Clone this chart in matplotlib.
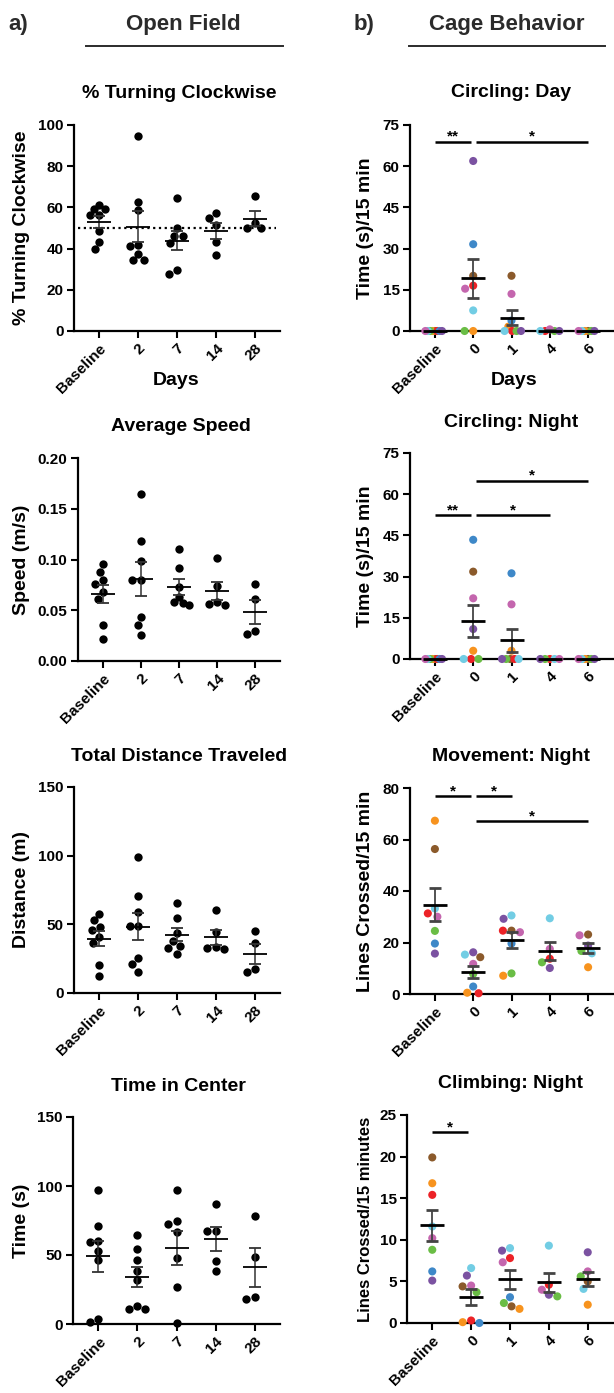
import numpy as np
import matplotlib
matplotlib.use("Agg")
import matplotlib.pyplot as plt
from matplotlib import font_manager

nan = np.nan

# ---------------- data ----------------
of_days = ["Baseline", "2", "7", "14", "28"]
cb_days = ["Baseline", "0", "1", "4", "6"]

turning = [
    [59.2, 59.4, 61.0, 56.1, 56.1, 48.7, 43.0, 40.0],
    [94.8, 62.8, 58.6, 41.7, 41.4, 37.5, 34.3, 34.3],
    [64.4, 46.3, 50.2, 46.3, 42.7, 27.8, 29.8],
    [57.3, 54.7, 51.5, 43.2, 36.7],
    [65.7, 50.2, 52.4, 49.8],
]
speed = [
    [0.096, 0.088, 0.076, 0.080, 0.061, 0.068, 0.035, 0.022],
    [0.165, 0.118, 0.099, 0.080, 0.080, 0.043, 0.035, 0.026],
    [0.110, 0.092, 0.073, 0.063, 0.057, 0.058, 0.055],
    [0.101, 0.074, 0.055, 0.058, 0.056],
    [0.076, 0.061, 0.027, 0.030],
]
distance = [
    [52.9, 57.8, 46.1, 48.3, 36.7, 40.8, 20.6, 12.6],
    [99.0, 70.4, 59.0, 48.5, 48.5, 25.5, 21.1, 15.3],
    [65.8, 54.8, 43.7, 38.1, 34.2, 33.0, 28.4],
    [60.4, 44.2, 32.3, 33.7, 32.8],
    [45.1, 36.6, 15.5, 17.6],
]
center_time = [
    [96.8, 71.2, 59.3, 60.0, 53.2, 46.5, 1.2, 3.6],
    [64.8, 54.4, 46.7, 38.7, 32.2, 11.1, 13.3, 11.1],
    [97.0, 72.3, 74.5, 66.8, 47.7, 27.1, 0.5],
    [87.1, 67.3, 67.7, 45.5, 38.7],
    [78.1, 48.9, 17.9, 19.6],
]

# cage behaviour: one column per animal
animals = ["brown", "orange", "red", "green", "blue", "cyan", "purple", "pink"]
animal_colors = ["#8B5A2B", "#F7931E", "#EC2227", "#6ABD45",
                 "#3E88C8", "#72CDE4", "#7B52A1", "#C466AE"]

circ_day = [
    [0, 0, 0, 0, 0, 0, 0, 0],
    [20.1, 0, 16.5, 0, 31.6, 7.5, 61.9, 15.4],
    [20.1, 1.6, 0, 0, 3.8, 0, 0, 13.5],
    [nan, nan, 0, 0, nan, 0, 0, 0.6],
    [0, 0, nan, 0, nan, 0, 0, 0],
]
circ_night = [
    [0, 0, 0, 0, 0, 0, 0, 0],
    [31.8, 3.0, 0, 0, 43.4, 0, 10.9, 22.1],
    [0, 3.0, 0, 0, 31.2, 0, 0, 19.9],
    [nan, nan, 0, 0, nan, 0, 0, 0],
    [0, 0, nan, 0, nan, 0, 0, 0],
]
movement = [
    [56.3, 67.3, 31.3, 24.5, 19.6, 33.2, 15.7, 30.0],
    [14.3, 0.5, 0.3, 7.8, 2.9, 15.3, 16.2, 11.7],
    [24.6, 7.1, 24.6, 8.0, 19.6, 30.5, 29.2, 24.0],
    [nan, nan, 13.7, 12.3, nan, 29.4, 10.1, 17.5],
    [23.1, 10.4, nan, 16.7, nan, 15.8, 18.8, 22.8],
]
climbing = [
    [19.9, 16.8, 15.4, 8.8, 6.2, 11.6, 5.1, 10.2],
    [4.4, 0.1, 0.3, 3.7, 0.0, 6.6, 5.7, 4.5],
    [2.0, 1.7, 7.8, 2.4, 3.1, 9.0, 8.7, 7.3],
    [nan, nan, 4.6, 3.2, nan, 9.3, 3.4, 4.0],
    [5.0, 2.2, nan, 5.6, nan, 4.1, 8.5, 6.2],
]

# significance: (group a, group b, height, label)
sig_circ_day = [(0, 1, 68.9, "**"), (1, 4, 68.9, "*")]
sig_circ_night = [(0, 1, 52.3, "**"), (1, 3, 52.3, "*"), (1, 4, 64.9, "*")]
sig_movement = [(0, 1, 76.8, "*"), (1, 2, 76.8, "*"), (1, 4, 67.1, "*")]
sig_climbing = [(0, 1, 22.9, "*")]

# ---------------- style ----------------
plt.rcParams["font.family"] = ["Liberation Sans", "DejaVu Sans"]
plt.rcParams["font.weight"] = "bold"
names = {f.name for f in font_manager.fontManager.ttflist}
has_narrow = "Liberation Sans Narrow" in names
head_family = ["Liberation Sans Narrow"] if has_narrow else ["Liberation Sans"]
head_size = 18 if has_narrow else 16

W, H = 614, 1393
fig = plt.figure(figsize=(W / 100, H / 100), dpi=100, facecolor="white")


def rect(x0, y0, x1, y1):
    return [x0 / W, 1 - y1 / H, (x1 - x0) / W, (y1 - y0) / H]


def ftext(x, y, s, **kw):
    fig.text(x / W, 1 - y / H, s, **kw)


def style_axes(ax, labels, ylim, yticks, yfmt=None):
    ax.set_xlim(-0.65, 4.65)
    ax.set_ylim(*ylim)
    ax.set_yticks(yticks)
    if yfmt:
        ax.set_yticklabels([yfmt.format(t) for t in yticks])
    ax.set_xticks(range(len(labels)))
    ax.set_xticklabels(labels, rotation=45, ha="right", rotation_mode="anchor")
    for s in ["top", "right"]:
        ax.spines[s].set_visible(False)
    for s in ["left", "bottom"]:
        ax.spines[s].set_linewidth(1.6)
    ax.tick_params(direction="out", length=5, width=1.5, labelsize=11, pad=2.5)
    for t in ax.get_xticklabels() + ax.get_yticklabels():
        t.set_fontweight("bold")


def swarm(ax, vals, d_px=8.6, lim_px=9.5):
    # simple beeswarm: spread points sideways so they don't collide
    vals = np.asarray(vals, float)
    ypix = ax.transData.transform(np.column_stack([np.zeros_like(vals), vals]))[:, 1]
    order = np.argsort(-ypix, kind="stable")
    xs = np.zeros(len(vals))
    placed = []
    for i in order:
        y = ypix[i]
        cands = [0.0]
        for j in placed:
            dy = y - ypix[j]
            if abs(dy) < d_px:
                dx = np.sqrt(d_px ** 2 - dy ** 2)
                cands += [xs[j] + dx, xs[j] - dx]
        ok = [c for c in cands
              if all((c - xs[j]) ** 2 + (y - ypix[j]) ** 2 >= d_px ** 2 - 1e-6 for j in placed)]
        xs[i] = min(ok, key=lambda c: (round(abs(c), 6), c))
        placed.append(i)
    m = np.abs(xs).max()
    if m > lim_px:
        xs *= lim_px / m
    ppu = ax.transData.transform((1, 0))[0] - ax.transData.transform((0, 0))[0]
    return xs / ppu


def mean_sem(ax, x, vals, ecolor, mlw, elw):
    v = np.asarray(vals, float)
    v = v[~np.isnan(v)]
    m = v.mean()
    s = v.std(ddof=1) / np.sqrt(len(v))
    ax.errorbar(x, m, yerr=s, fmt="_", color="black", ecolor=ecolor,
                markersize=17, mew=mlw, elinewidth=elw, capsize=4.6,
                capthick=elw, zorder=5, clip_on=False)


def sig_bars(ax, sigs):
    for a, b, y, lab in sigs:
        x0 = a + (0.08 if a > 0 else 0.0)
        x1 = b - (0.07 if b == 1 else 0.0)
        ax.plot([x0, x1], [y, y], color="black", lw=1.8, clip_on=False,
                solid_capstyle="butt")
        ax.annotate(lab, ((x0 + x1) / 2, y), xytext=(0, -1.5),
                    textcoords="offset points", ha="center", va="bottom",
                    fontsize=11, fontweight="bold", annotation_clip=False)


# ---------------- left column: open field ----------------
left_panels = [
    ((74, 125, 280, 331), turning, (0, 100), [0, 20, 40, 60, 80, 100], None,
     "% Turning Clockwise", "% Turning Clockwise", 98),
    ((78, 458, 280, 661), speed, (0, 0.2), [0, 0.05, 0.10, 0.15, 0.20], "{:.2f}",
     "Average Speed", "Speed (m/s)", 431),
    ((74, 787, 280, 993), distance, (0, 150), [0, 50, 100, 150], None,
     "Total Distance Traveled", "Distance (m)", 761),
    ((73, 1117, 280, 1324), center_time, (0, 150), [0, 50, 100, 150], None,
     "Time in Center", "Time (s)", 1091),
]
for (r, data, ylim, yt, yfmt, title, ylab, ty) in left_panels:
    ax = fig.add_axes(rect(*r))
    style_axes(ax, of_days, ylim, yt, yfmt)
    for g, vals in enumerate(data):
        off = swarm(ax, vals)
        ax.scatter(g + off, vals, s=36, color="black", linewidths=0,
                   zorder=4, clip_on=False)
        mean_sem(ax, g, vals, "#333333", 1.3, 1.1)
    if ylab.startswith("%"):
        ax.axhline(50, xmin=0.02, xmax=0.98, color="black", lw=1.6,
                   ls=(0, (1, 1.6)), zorder=3)
    ftext((r[0] + r[2]) / 2 + 2, ty, title, ha="center", va="baseline",
          fontsize=14, fontweight="bold")
    ftext(22, (r[1] + r[3]) / 2, ylab, ha="center", va="center", rotation=90,
          fontsize=14, fontweight="bold")

# ---------------- right column: cage behaviour ----------------
right_panels = [
    ((410, 125, 613, 331), circ_day, (0, 75), [0, 15, 30, 45, 60, 75], sig_circ_day,
     "Circling: Day", "Time (s)/15 min", 14, 97),
    ((410, 453, 613, 659), circ_night, (0, 75), [0, 15, 30, 45, 60, 75], sig_circ_night,
     "Circling: Night", "Time (s)/15 min", 14, 427),
    ((410, 788, 613, 994), movement, (0, 80), [0, 20, 40, 60, 80], sig_movement,
     "Movement: Night", "Lines Crossed/15 min", 14, 761),
    ((407, 1115, 613, 1323), climbing, (0, 25), [0, 5, 10, 15, 20, 25], sig_climbing,
     "Climbing: Night", "Lines Crossed/15 minutes", 12, 1088),
]
for (r, data, ylim, yt, sigs, title, ylab, ysize, ty) in right_panels:
    ax = fig.add_axes(rect(*r))
    style_axes(ax, cb_days, ylim, yt)
    for g, row in enumerate(data):
        row = np.asarray(row, float)
        keep = ~np.isnan(row)
        vals = row[keep]
        cols = [c for c, k in zip(animal_colors, keep) if k]
        off = swarm(ax, vals)
        ax.scatter(g + off, vals, s=34, c=cols, linewidths=0, zorder=4,
                   clip_on=False)
        mean_sem(ax, g, vals, "#444444", 2.0, 1.3)
    sig_bars(ax, sigs)
    ftext((r[0] + r[2]) / 2, ty, title, ha="center", va="baseline",
          fontsize=14, fontweight="bold")
    ftext(365, (r[1] + r[3]) / 2, ylab, ha="center", va="center", rotation=90,
          fontsize=ysize, fontweight="bold")

# ---------------- headers ----------------
ftext(176, 385, "Days", ha="center", va="baseline", fontsize=14, fontweight="bold")
ftext(514, 385, "Days", ha="center", va="baseline", fontsize=14, fontweight="bold")
for x_lab, lab, head, x_mid, x0, x1 in [(8, "a)", "Open Field", 183, 86, 283),
                                         (354, "b)", "Cage Behavior", 507, 409, 605)]:
    ftext(x_lab, 30, lab, ha="left", va="baseline", fontsize=head_size,
          fontweight="bold", family=head_family, color="#2b2b2b")
    ftext(x_mid, 30, head, ha="center", va="baseline", fontsize=head_size,
          fontweight="bold", family=head_family, color="#2b2b2b")
    fig.add_artist(plt.Line2D([x0 / W, x1 / W], [1 - 46 / H, 1 - 46 / H],
                              color="#2b2b2b", lw=1.4))

fig.savefig("out.png", dpi=100)
